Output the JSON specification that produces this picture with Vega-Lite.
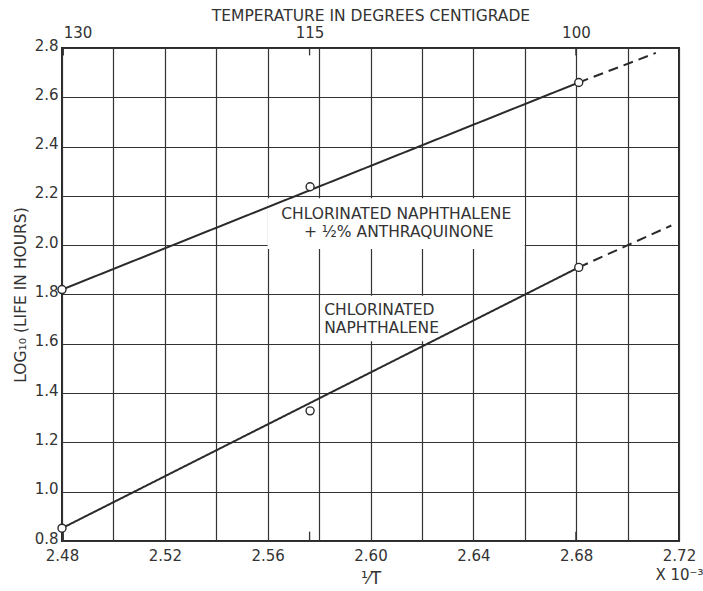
{
  "$schema": "https://vega.github.io/schema/vega-lite/v6.json",
  "width": 617,
  "height": 493,
  "autosize": {"type": "none"},
  "padding": {"left": 62, "top": 48, "right": 24, "bottom": 50},
  "background": "white",
  "config": {
    "view": {"stroke": "#2a2a2a", "strokeWidth": 2},
    "axis": {
      "labelFont": "DejaVu Sans", "titleFont": "DejaVu Sans",
      "labelColor": "#333", "titleColor": "#333",
      "labelFontSize": 15, "titleFontSize": 15.5, "titleFontWeight": "normal",
      "gridColor": "#333", "gridOpacity": 1, "gridWidth": 1.2
    },
    "text": {"font": "DejaVu Sans", "fontSize": 15.5, "color": "#333"}
  },
  "resolve": {"axis": {"x": "independent", "y": "independent"}},
  "layer": [
    {
      "data": {"values": [
        {"x1": 2.56, "x2": 2.66, "y1": 1.985, "y2": 2.19},
        {"x1": 2.5805, "x2": 2.6388, "y1": 1.61, "y2": 1.795}
      ]},
      "mark": {"type": "rect", "fill": "white", "stroke": null},
      "encoding": {
        "x": {"field": "x1", "type": "quantitative",
          "scale": {"domain": [2.48, 2.72], "nice": false, "zero": false},
          "axis": {
            "orient": "bottom",
            "values": [2.48, 2.50, 2.52, 2.54, 2.56, 2.58, 2.60, 2.62, 2.64, 2.66, 2.68, 2.70, 2.72],
            "labelExpr": "abs(datum.value-2.72)<0.001 ? ['2.72','X 10⁻³'] : (round(datum.value*100)%4==0 ? format(datum.value,'.2f') : '')",
            "grid": true, "ticks": false, "domain": false, "labelFlush": false,
            "labelPadding": 7, "labelOverlap": false, "labelLineHeight": 19,
            "title": "¹⁄T", "titleFontSize": 17, "titlePadding": -12
          }},
        "x2": {"field": "x2"},
        "y": {"field": "y1", "type": "quantitative",
          "scale": {"domain": [0.8, 2.8], "nice": false, "zero": false},
          "axis": {
            "orient": "left",
            "values": [0.8, 1.0, 1.2, 1.4, 1.6, 1.8, 2.0, 2.2, 2.4, 2.6, 2.8],
            "format": ".1f", "grid": true, "ticks": false, "domain": false,
            "labelPadding": 4, "labelOverlap": false, "labelOffset": -3,
            "title": "LOG₁₀ (LIFE IN HOURS)", "titlePadding": 6
          }},
        "y2": {"field": "y2"}
      }
    },
    {
      "data": {"values": [
        {"x": 2.4805, "y": 2.8, "y2": 2.77},
        {"x": 2.5763, "y": 2.8, "y2": 2.77},
        {"x": 2.6799, "y": 2.8, "y2": 2.77},
        {"x": 2.4805, "y": 0.8, "y2": 0.838},
        {"x": 2.5763, "y": 0.8, "y2": 0.838},
        {"x": 2.6799, "y": 0.8, "y2": 0.838}
      ]},
      "mark": {"type": "rule", "color": "#333", "strokeWidth": 1.3},
      "encoding": {
        "x": {"field": "x", "type": "quantitative",
          "scale": {"domain": [2.48, 2.72], "nice": false, "zero": false},
          "axis": {
            "orient": "top",
            "values": [2.4805, 2.5763, 2.6799],
            "labelExpr": "datum.value < 2.5 ? '130' : (datum.value < 2.6 ? '115' : '100')",
            "grid": false, "ticks": false, "domain": false,
            "labelFlush": 5, "labelPadding": 8, "labelOverlap": false,
            "title": "TEMPERATURE IN DEGREES CENTIGRADE", "titlePadding": 2
          }},
        "y": {"field": "y", "type": "quantitative", "axis": null,
          "scale": {"domain": [0.8, 2.8], "nice": false, "zero": false}},
        "y2": {"field": "y2"}
      }
    },
    {
      "data": {"values": [
        {"curve": "upper", "seg": "solid", "x": 2.48, "y": 1.82},
        {"curve": "upper", "seg": "solid", "x": 2.681, "y": 2.66},
        {"curve": "upper", "seg": "dashed", "x": 2.681, "y": 2.66},
        {"curve": "upper", "seg": "dashed", "x": 2.711, "y": 2.78},
        {"curve": "lower", "seg": "solid", "x": 2.48, "y": 0.852},
        {"curve": "lower", "seg": "solid", "x": 2.681, "y": 1.91},
        {"curve": "lower", "seg": "dashed", "x": 2.681, "y": 1.91},
        {"curve": "lower", "seg": "dashed", "x": 2.717, "y": 2.08}
      ]},
      "mark": {"type": "line", "color": "#2a2a2a", "strokeWidth": 2},
      "encoding": {
        "x": {"field": "x", "type": "quantitative", "axis": null,
          "scale": {"domain": [2.48, 2.72], "nice": false, "zero": false}},
        "y": {"field": "y", "type": "quantitative", "axis": null,
          "scale": {"domain": [0.8, 2.8], "nice": false, "zero": false}},
        "detail": [{"field": "curve"}],
        "strokeDash": {"field": "seg", "type": "nominal",
          "scale": {"domain": ["solid", "dashed"], "range": [[1, 0], [10, 6]]},
          "legend": null}
      }
    },
    {
      "data": {"values": [
        {"curve": "upper", "x": 2.48, "y": 1.82},
        {"curve": "upper", "x": 2.5765, "y": 2.237},
        {"curve": "upper", "x": 2.681, "y": 2.66},
        {"curve": "lower", "x": 2.48, "y": 0.852},
        {"curve": "lower", "x": 2.5765, "y": 1.328},
        {"curve": "lower", "x": 2.681, "y": 1.91}
      ]},
      "mark": {"type": "point", "shape": "circle", "filled": true, "fill": "white", "stroke": "#2a2a2a", "strokeWidth": 1.4, "size": 64, "opacity": 1},
      "encoding": {
        "x": {"field": "x", "type": "quantitative", "axis": null,
          "scale": {"domain": [2.48, 2.72], "nice": false, "zero": false}},
        "y": {"field": "y", "type": "quantitative", "axis": null,
          "scale": {"domain": [0.8, 2.8], "nice": false, "zero": false}}
      }
    },
    {
      "data": {"values": [
        {"x": 2.61, "y": 2.127, "t": "CHLORINATED NAPHTHALENE"},
        {"x": 2.611, "y": 2.052, "t": "+ ½% ANTHRAQUINONE"}
      ]},
      "mark": {"type": "text", "align": "center", "baseline": "middle"},
      "encoding": {
        "x": {"field": "x", "type": "quantitative", "axis": null,
          "scale": {"domain": [2.48, 2.72], "nice": false, "zero": false}},
        "y": {"field": "y", "type": "quantitative", "axis": null,
          "scale": {"domain": [0.8, 2.8], "nice": false, "zero": false}},
        "text": {"field": "t"}
      }
    },
    {
      "data": {"values": [
        {"x": 2.582, "y": 1.737, "t": "CHLORINATED"},
        {"x": 2.582, "y": 1.665, "t": "NAPHTHALENE"}
      ]},
      "mark": {"type": "text", "align": "left", "baseline": "middle"},
      "encoding": {
        "x": {"field": "x", "type": "quantitative", "axis": null,
          "scale": {"domain": [2.48, 2.72], "nice": false, "zero": false}},
        "y": {"field": "y", "type": "quantitative", "axis": null,
          "scale": {"domain": [0.8, 2.8], "nice": false, "zero": false}},
        "text": {"field": "t"}
      }
    }
  ]
}
